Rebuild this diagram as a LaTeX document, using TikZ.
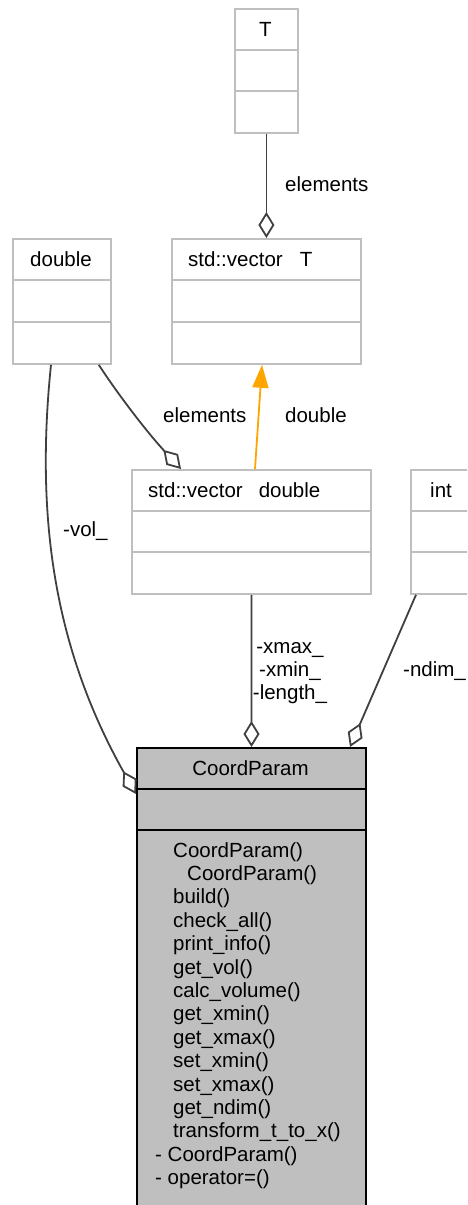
\documentclass[tikz,border=0pt]{standalone}
\usepackage{fontspec}
\setmainfont{Liberation Sans}
\usetikzlibrary{arrows.meta,calc}
\definecolor{boxgray}{HTML}{BFBFBF}
\definecolor{edgegray}{HTML}{404040}
\definecolor{inherit}{HTML}{FFA500}
\tikzset{
  txt/.style={font=\fontsize{20.5pt}{24pt}\selectfont, inner sep=0pt, text=black},
  clsbox/.style={draw=boxgray, line width=1.8pt, fill=white, anchor=north west, inner sep=0pt},
  mainbox/.style={draw=black, line width=2pt, fill=boxgray, anchor=north west, inner sep=0pt},
  divline/.style={draw=boxgray, line width=1.8pt},
  maindiv/.style={draw=black, line width=2pt},
  agg/.style={draw=edgegray, line width=1.8pt, -{Diamond[open,length=26pt,width=16pt]}},
  inh/.style={draw=inherit, line width=1.8pt, -{Triangle[length=23pt,width=16pt,fill=inherit]}},
}
\begin{document}
\begin{tikzpicture}[x=1pt, y=-1pt]
\clip (0,0) rectangle (467,1205);
\fill[white] (0,0) rectangle (467,1205);

% class boxes
\node[clsbox, minimum width=63pt, minimum height=124pt] (T) at (234,8) {};
\draw[divline] ($(T.north west)+(0,42)$) -- ($(T.north east)+(0,42)$);
\draw[divline] ($(T.north west)+(0,83)$) -- ($(T.north east)+(0,83)$);
\node[txt, anchor=base] (Tt) at (265.5,36.5) {T};

\node[clsbox, minimum width=189pt, minimum height=125pt] (vecT) at (171,238) {};
\draw[divline] ($(vecT.north west)+(0,42)$) -- ($(vecT.north east)+(0,42)$);
\draw[divline] ($(vecT.north west)+(0,84)$) -- ($(vecT.north east)+(0,84)$);
\node[txt, anchor=base west] (vecTt) at (188,266) {std::vector\hspace{17pt}T};

\node[clsbox, minimum width=98pt, minimum height=125pt] (dbl) at (12,238) {};
\draw[divline] ($(dbl.north west)+(0,42)$) -- ($(dbl.north east)+(0,42)$);
\draw[divline] ($(dbl.north west)+(0,84)$) -- ($(dbl.north east)+(0,84)$);
\node[txt, anchor=base] (dblt) at (61,266) {double};

\node[clsbox, minimum width=239pt, minimum height=124pt] (vecD) at (131,469) {};
\draw[divline] ($(vecD.north west)+(0,42)$) -- ($(vecD.north east)+(0,42)$);
\draw[divline] ($(vecD.north west)+(0,83)$) -- ($(vecD.north east)+(0,83)$);
\node[txt, anchor=base west] (vecDt) at (148,497) {std::vector\hspace{16pt}double};

\node[clsbox, minimum width=70pt, minimum height=124pt] (int) at (410,469) {};
\draw[divline] ($(int.north west)+(0,42)$) -- ($(int.north east)+(0,42)$);
\draw[divline] ($(int.north west)+(0,83)$) -- ($(int.north east)+(0,83)$);
\node[txt, anchor=base west] (intt) at (430,497) {int};

\node[mainbox, minimum width=229pt, minimum height=480pt] (CP) at (136,747) {};
\draw[maindiv] ($(CP.north west)+(0,42)$) -- ($(CP.north east)+(0,42)$);
\draw[maindiv] ($(CP.north west)+(0,83)$) -- ($(CP.north east)+(0,83)$);
\node[txt, anchor=base] (CPt) at (250.5,775) {CoordParam};

% member functions
\node[txt, anchor=base west] (m1) at (173,857.0) {CoordParam()};
\node[txt, anchor=base west] (m2) at (187,880.4) {CoordParam()};
\node[txt, anchor=base west] (m3) at (173,903.8) {build()};
\node[txt, anchor=base west] (m4) at (173,927.2) {check\_all()};
\node[txt, anchor=base west] (m5) at (173,950.6) {print\_info()};
\node[txt, anchor=base west] (m6) at (173,974.0) {get\_vol()};
\node[txt, anchor=base west] (m7) at (173,997.4) {calc\_volume()};
\node[txt, anchor=base west] (m8) at (173,1020.8) {get\_xmin()};
\node[txt, anchor=base west] (m9) at (173,1044.2) {get\_xmax()};
\node[txt, anchor=base west] (m10) at (173,1067.6) {set\_xmin()};
\node[txt, anchor=base west] (m11) at (173,1091.0) {set\_xmax()};
\node[txt, anchor=base west] (m12) at (173,1114.4) {get\_ndim()};
\node[txt, anchor=base west] (m13) at (173,1137.8) {transform\_t\_to\_x()};
\node[txt, anchor=base west] (m14) at (155,1161.2) {- CoordParam()};
\node[txt, anchor=base west] (m15) at (155,1184.6) {- operator=()};

% connectors
\draw[agg] (T.south) -- (vecT.north);
\node[txt, anchor=base west] (l1) at (285,191.5) {elements};

\draw[inh] ($(vecD.north west)+(124,0)$) -- ($(vecT.south west)+(91,0)$);
\node[txt, anchor=base west] (l2) at (285,422) {double};

\draw[agg] ($(dbl.south east)+(-13,0)$) .. controls (115,390) and (145,430) .. ($(vecD.north west)+(50,0)$);
\node[txt, anchor=base west] (l3) at (163,422) {elements};

\draw[agg] ($(dbl.south west)+(39,0)$) .. controls (35,520) and (55,650) .. ($(CP.north west)+(0,47)$);
\node[txt, anchor=base west] (l4) at (63,536) {-vol\_};

\draw[agg] (vecD.south) -- (CP.north);
\node[txt, anchor=base] (l5) at (290,653) {-xmax\_};
\node[txt, anchor=base] (l6) at (290,676) {-xmin\_};
\node[txt, anchor=base] (l7) at (290,699) {-length\_};

\draw[agg] ($(int.south west)+(6,0)$) -- ($(CP.north east)+(-17,0)$);
\node[txt, anchor=base west] (l8) at (403,676) {-ndim\_};
\end{tikzpicture}
\end{document}
